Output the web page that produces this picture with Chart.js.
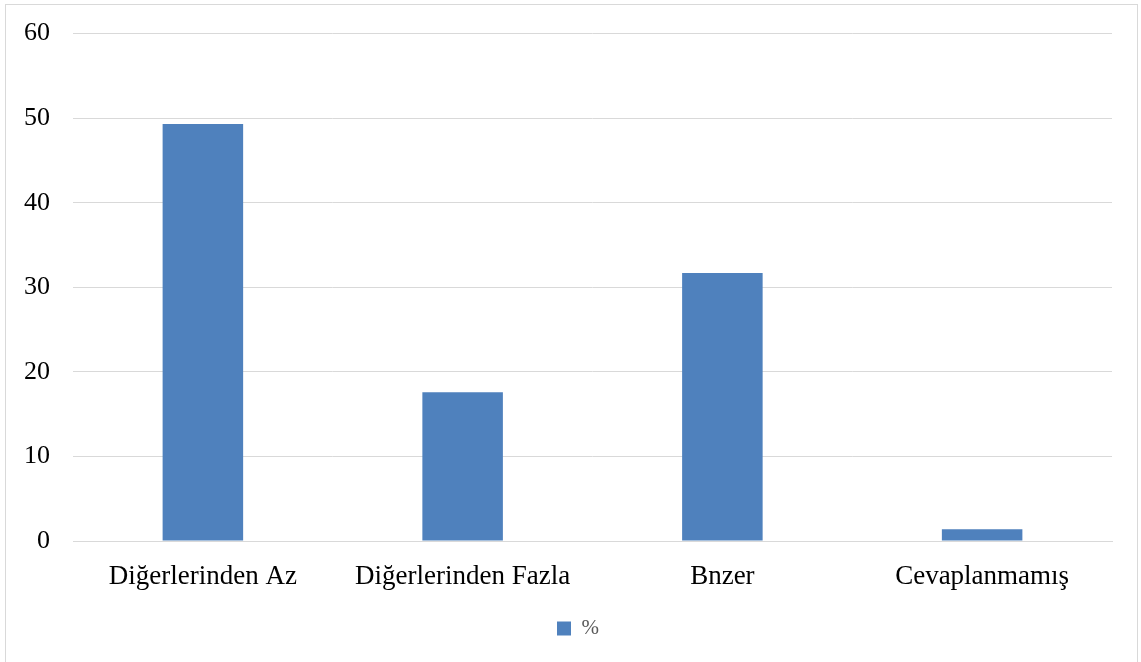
<!DOCTYPE html>
<html>
<head>
<meta charset="utf-8">
<script src="https://cdn.jsdelivr.net/npm/chart.js@4/dist/chart.umd.min.js"></script>
<style>
    html, body { margin: 0; padding: 0; background: #fff; overflow: hidden; }
    #frame {
        position: absolute;
        left: 5px;
        top: 4px;
        width: 1131px;
        height: 670px;
        border: 1px solid #d9d9d9;
        overflow: hidden;
    }
    #frame canvas { display: block; margin-top: -10px; }
</style>
</head>
<body>
<div id="frame"><canvas id="chart" width="1131" height="667"></canvas></div>
<script>
// Response categories and percentages
const categories = ['Diğerlerinden Az', 'Diğerlerinden Fazla', 'Bnzer', 'Cevaplanmamış'];
const percentValues = [49.3, 17.6, 31.7, 1.4];
const seriesLabel = '%';
const yTicks = [0, 10, 20, 30, 40, 50, 60];

const barColor = '#4f81bd';
const gridColor = '#d9d9d9';
const serif = '"Liberation Serif", "Times New Roman", serif';

// the legend is centred on the full frame, not on the padded area
const centreLegend = {
    id: 'centreLegend',
    afterLayout(chart) {
        if (!chart.legend) return;
        chart.legend.left += 19;
        chart.legend.right += 19;
    }
};

const ctx = document.getElementById('chart');

new Chart(ctx, {
    type: 'bar',
    data: {
        labels: categories,
        datasets: [{
            label: seriesLabel,
            data: percentValues,
            backgroundColor: barColor,
            borderWidth: 0,
            categoryPercentage: 1,
            barPercentage: 0.31
        }]
    },
    options: {
        responsive: false,
        animation: false,
        layout: {
            padding: { top: 5, right: 25, bottom: 13, left: 0 }
        },
        plugins: {
            legend: {
                position: 'bottom',
                labels: {
                    boxWidth: 14,
                    boxHeight: 14,
                    padding: 10,
                    color: '#595959',
                    font: { family: serif, size: 21 }
                }
            },
            tooltip: { enabled: false }
        },
        scales: {
            x: {
                grid: { display: false, drawTicks: false },
                border: { color: gridColor, width: 1 },
                ticks: {
                    color: '#000',
                    padding: 20,
                    maxRotation: 0,
                    font: { family: serif, size: 27 }
                },
                afterFit: function(scale) { scale.height = 67; }
            },
            y: {
                min: 0,
                max: 60,
                afterBuildTicks: function(scale) {
                    scale.ticks = yTicks.map(v => ({ value: v }));
                },
                grid: { color: gridColor, lineWidth: 1, drawTicks: false },
                border: { display: false },
                ticks: {
                    color: '#000',
                    padding: 23,
                    font: { family: serif, size: 26 }
                },
                afterFit: function(scale) { scale.width = 67; }
            }
        }
    },
    plugins: [centreLegend]
});
</script>
</body>
</html>
